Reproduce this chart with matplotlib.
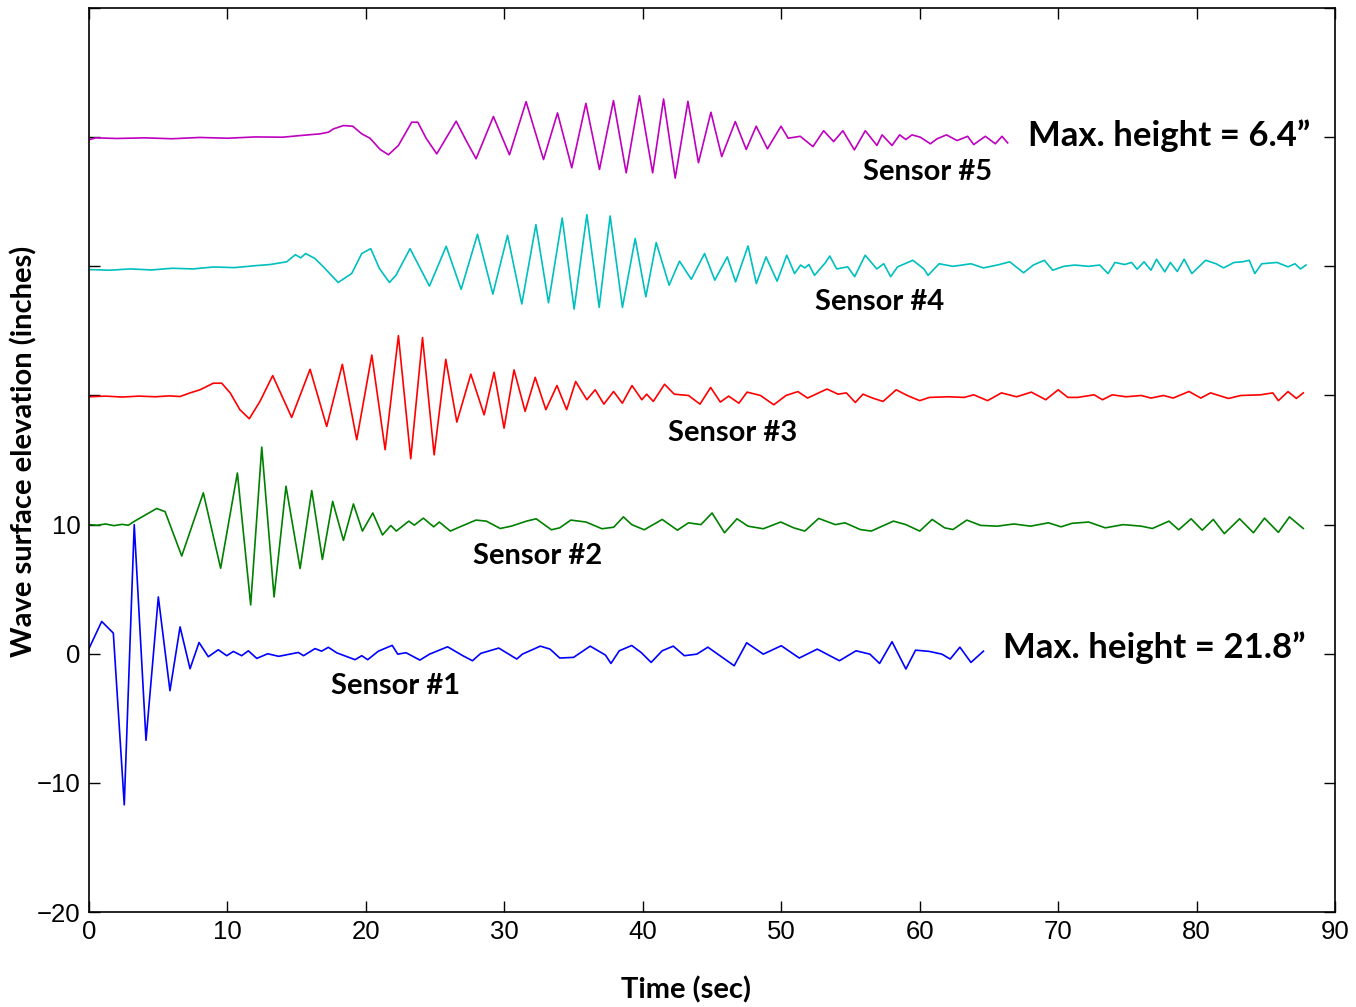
import matplotlib
matplotlib.use('Agg')
import matplotlib.pyplot as plt

# Sensor traces: (time, elevation) at turning points
s1_t = [0, 0.92, 1.76, 2.55, 3.27, 4.12, 5.01, 5.85, 6.58, 7.30, 7.95, 8.62, 9.34, 9.95,
        10.43, 11.03, 11.51, 12.12, 12.91, 13.7, 15.12, 15.5, 16.33, 16.8, 17.29, 17.9,
        19.22, 19.7, 20.13, 20.9, 21.9, 22.3, 22.9, 23.9, 24.6, 25.9, 27.0, 27.7, 28.3,
        29.6, 30.9, 31.3, 32.6, 33.3, 34.0, 35.0, 36.2, 37.3, 37.7, 38.3, 39.2, 39.9, 40.6,
        41.4, 42.2, 43.0, 43.9, 44.7, 45.2, 46.6, 47.5, 48.7, 50.0, 51.3, 52.6, 54.2, 55.4,
        56.4, 57.1, 58.0, 59.0, 59.7, 60.7, 61.6, 62.2, 62.9, 63.7, 64.6]
s1_y = [0.4, 2.5, 1.6, -11.7, 10.0, -6.7, 4.4, -2.86, 2.08, -1.16, 0.87, -0.23, 0.31, -0.15,
        0.18, -0.15, 0.23, -0.36, 0.0, -0.2, 0.1, -0.15, 0.4, 0.2, 0.5, 0.07,
        -0.46, -0.15, -0.46, 0.2, 0.65, -0.03, 0.08, -0.49, -0.03, 0.54, -0.15, -0.54, 0.03,
        0.44, -0.41, -0.03, 0.59, 0.36, -0.33, -0.28, 0.59, -0.1, -0.75, 0.23, 0.64, 0.08, -0.67,
        0.23, 0.59, -0.15, -0.03, 0.51, 0.13, -0.93, 0.85, -0.03, 0.62, -0.33, 0.36, -0.54, 0.23,
        -0.03, -0.75, 0.93, -1.18, 0.28, 0.18, -0.03, -0.41, 0.51, -0.67, 0.2]

s2_t = [0, 0.6, 1.2, 1.8, 2.4, 2.84, 3.3, 4.89, 5.5, 6.7, 8.26, 9.51, 10.72, 11.68, 12.48,
        13.37, 14.23, 15.25, 16.09, 16.86, 17.6, 18.38, 19.1, 19.75, 20.5, 21.2, 21.8, 22.2,
        23.1, 23.5, 24.15, 24.9, 25.3, 26.1, 26.8, 27.95, 28.7, 29.7, 30.5, 31.6, 32.3, 33.4,
        34.0, 34.8, 35.9, 37.05, 37.9, 38.6, 39.2, 40.1, 41.4, 42.5, 43.3, 44.2, 45.0, 45.9,
        46.8, 47.6, 48.7, 49.96, 50.9, 51.7, 52.7, 53.9, 54.6, 55.7, 56.5, 58.1, 59.0, 60.0,
        60.9, 61.8, 62.4, 63.4, 64.4, 65.6, 66.8, 68.0, 69.3, 70.2, 71.0, 72.2, 73.4, 74.7,
        76.0, 76.8, 78.0, 78.7, 79.6, 80.4, 81.2, 82.0, 83.1, 84.1, 84.9, 85.9, 86.7, 87.7]
s2_y = [10.0, 9.95, 10.05, 9.92, 10.02, 9.95, 10.27, 11.25, 11.0, 7.57, 12.46, 6.62, 14.0, 3.78, 16.0,
        4.4, 12.97, 6.6, 12.64, 7.3, 11.8, 8.78, 11.6, 9.5, 10.9, 9.2, 9.93, 9.5,
        10.27, 9.96, 10.5, 9.83, 10.2, 9.5, 9.83, 10.35, 10.27, 9.7, 9.88, 10.27, 10.45, 9.6,
        9.75, 10.35, 10.2, 9.68, 9.8, 10.6, 10.0, 9.6, 10.4, 9.57, 10.14, 10.0, 10.9, 9.37,
        10.45, 9.88, 9.68, 10.2, 9.75, 9.5, 10.48, 10.0, 10.14, 9.62, 9.5, 10.27, 10.0, 9.5,
        10.4, 9.75, 9.62, 10.35, 9.94, 9.88, 10.05, 9.88, 10.14, 9.83, 10.1, 10.2, 9.75, 10.0,
        9.88, 9.7, 10.27, 9.6, 10.45, 9.57, 10.4, 9.3, 10.45, 9.37, 10.5, 9.4, 10.6, 9.7]

s3_t = [0, 1.2, 2.4, 3.6, 4.8, 5.8, 6.58, 7.3, 8.02, 8.98, 9.59, 10.2, 10.9, 11.58, 12.35,
        13.27, 14.64, 15.97, 17.17, 18.3, 19.34, 20.43, 21.39, 22.35, 23.24, 24.09, 24.93,
        25.77, 26.57, 27.58, 28.54, 29.26, 29.98, 30.7, 31.5, 32.23, 33.0, 33.8, 34.5, 35.15,
        35.96, 36.56, 37.19, 37.89, 38.52, 39.22, 39.93, 40.28, 40.76, 41.57, 42.27, 43.3,
        44.13, 44.9, 45.6, 46.2, 46.94, 47.53, 48.5, 49.46, 50.34, 51.2, 51.9, 53.3, 54.1,
        54.7, 55.35, 55.9, 56.6, 57.35, 58.3, 59.1, 60.0, 60.7, 62.1, 63.2, 63.9, 64.9, 65.9,
        67.0, 68.06, 69.1, 70.0, 70.7, 71.4, 72.6, 73.2, 73.9, 74.9, 76.0, 76.7, 77.6, 78.3,
        79.45, 80.3, 81.0, 82.3, 83.2, 84.6, 85.5, 85.9, 86.6, 87.2, 87.7]
s3_y = [19.9, 19.95, 19.88, 19.95, 19.9, 19.97, 19.92, 20.2, 20.44, 20.95, 20.95, 20.2, 18.9, 18.2, 19.54,
        21.54, 18.3, 22.03, 17.6, 22.41, 16.57, 23.13, 15.8, 24.63, 15.1, 24.48, 15.4,
        22.8, 17.94, 21.65, 18.5, 21.8, 17.47, 21.98, 18.77, 21.4, 18.9, 20.77, 18.9, 21.08,
        19.67, 20.44, 19.33, 20.31, 19.4, 20.77, 19.67, 20.1, 19.54, 20.87, 20.1, 20.0,
        19.33, 20.62, 19.49, 19.95, 19.4, 20.26, 20.0, 19.28, 20.0, 20.3, 19.8, 20.5, 20.1,
        20.2, 19.46, 20.1, 19.8, 19.54, 20.44, 20.0, 19.6, 19.85, 19.9, 19.85, 20.05, 19.6, 20.2,
        19.9, 20.26, 19.67, 20.44, 19.85, 19.85, 20.05, 19.67, 20.05, 19.9, 20.0, 19.8, 20.0, 19.8,
        20.31, 19.8, 20.2, 19.77, 20.0, 20.05, 20.2, 19.6, 20.3, 19.77, 20.2]

s4_t = [0, 1.5, 3, 4.5, 6, 7.5, 9, 10.5, 12, 13.08, 14.28, 14.9, 15.3, 15.65, 16.33, 16.93,
        18.0, 18.98, 19.7, 20.35, 20.98, 21.7, 22.18, 23.19, 24.59, 25.8, 26.88, 28.06, 29.17,
        30.23, 31.26, 32.28, 33.19, 34.18, 35.04, 35.96, 36.85, 37.64, 38.53, 39.45, 40.22,
        40.97, 41.9, 42.65, 43.5, 44.46, 45.2, 46.1, 46.7, 47.6, 48.2, 48.9, 49.7, 50.4, 50.96,
        51.4, 51.7, 52.0, 52.4, 53.2, 53.5, 54.0, 54.8, 55.3, 56.06, 56.9, 57.4, 57.9, 58.4,
        59.5, 60.3, 60.6, 61.4, 62.4, 63.7, 64.6, 65.6, 66.5, 67.5, 68.2, 69.0, 69.6, 70.4,
        71.2, 72.2, 73.0, 73.6, 74.1, 74.8, 75.3, 75.7, 76.2, 76.7, 77.1, 77.7, 78.1, 78.6,
        79.1, 79.65, 80.65, 81.4, 81.95, 82.7, 83.3, 83.8, 84.2, 84.7, 85.8, 86.6, 87.1, 87.5, 87.9]
s4_y = [29.75, 29.7, 29.8, 29.72, 29.85, 29.8, 29.95, 29.9, 30.05, 30.14, 30.35, 30.9, 30.66, 30.99, 30.6, 29.96,
        28.75, 29.45, 30.99, 31.37, 29.83, 28.75, 29.32, 31.37, 28.47, 31.55, 28.22, 32.48, 27.85,
        32.4, 27.08, 33.23, 27.18, 33.74, 26.69, 34.0, 26.82, 33.9, 26.82, 32.15, 27.64,
        31.84, 28.54, 30.4, 29.0, 30.99, 28.93, 30.73, 28.8, 31.58, 28.67, 30.73, 28.85, 30.86, 29.44,
        30.1, 29.88, 30.14, 29.3, 30.3, 30.8, 29.8, 29.96, 29.2, 30.86, 29.8, 30.2, 29.2, 29.96,
        30.47, 29.8, 29.3, 30.2, 30.0, 30.2, 29.88, 30.1, 30.35, 29.5, 30.1, 30.47, 29.7, 30.0,
        30.1, 30.0, 30.1, 29.44, 30.3, 30.14, 30.3, 29.78, 30.35, 29.7, 30.55, 29.57, 30.3, 29.6,
        30.55, 29.44, 30.47, 30.2, 29.88, 30.3, 30.35, 30.47, 29.44, 30.2, 30.3, 29.96, 30.2, 29.8, 30.1]

s5_t = [0, 0.5, 2, 4, 6, 8, 10, 12, 14, 15.5, 16.69, 17.3, 17.65, 18.38, 19.05, 19.7, 20.3,
        21.03, 21.63, 22.35, 23.31, 23.75, 24.35, 25.12, 26.52, 27.24, 27.96, 29.21, 30.37,
        31.57, 32.83, 33.84, 34.87, 35.89, 36.87, 37.88, 38.8, 39.76, 40.71, 41.5, 42.34,
        43.26, 44.02, 44.92, 45.7, 46.68, 47.47, 48.19, 49.0, 49.98, 50.5, 51.37, 52.29, 53.06,
        53.78, 54.45, 55.28, 56.07, 56.91, 57.28, 58.0, 58.55, 59.0, 59.44, 60.04, 60.77,
        61.24, 61.93, 62.7, 63.46, 63.9, 64.74, 65.46, 65.94, 66.35]
s5_y = [39.8, 39.95, 39.9, 39.95, 39.88, 39.98, 39.92, 40.02, 40.0, 40.15, 40.26, 40.39, 40.64, 40.9, 40.85, 40.26, 39.92,
        39.05, 38.64, 39.36, 41.16, 41.16, 39.92, 38.71, 41.24, 39.74, 38.33, 41.6, 38.64,
        42.75, 38.27, 41.88, 37.63, 42.62, 37.5, 42.83, 37.24, 43.21, 37.24, 42.96, 36.83,
        42.78, 38.02, 41.93, 38.5, 41.21, 39.05, 40.85, 39.1, 40.85, 39.92, 40.07, 39.27, 40.5,
        39.66, 40.5, 39.02, 40.5, 39.36, 40.18, 39.36, 40.18, 39.82, 40.18, 40.0, 39.49,
        39.87, 40.18, 39.74, 40.07, 39.43, 40.07, 39.49, 40.07, 39.56]

sensor_names = ['Sensor #1', 'Sensor #2', 'Sensor #3', 'Sensor #4', 'Sensor #5']
x_ticks = [0, 10, 20, 30, 40, 50, 60, 70, 80, 90]
y_ticks = [-20, -10, 0, 10, 20, 30, 40, 50]
y_tick_labels = ['\u221220', '\u221210', '0', '10', '', '', '', '']

series = [(s1_t, s1_y, '#0000ff'), (s2_t, s2_y, '#008000'), (s3_t, s3_y, '#ff0000'),
          (s4_t, s4_y, '#00bfbf'), (s5_t, s5_y, '#bf00bf')]

label_font = ['Lato', 'DejaVu Sans']

fig = plt.figure(figsize=(13.56, 10.07), dpi=100)
ax = fig.add_axes([0.0656, 0.0943, 0.919, 0.8977])

for t, y, c in series:
    ax.plot(t, y, color=c, linewidth=1.2, solid_joinstyle='round')

ax.set_xlim(0, 90)
ax.set_ylim(-20, 50)
ax.set_xticks(x_ticks)
ax.set_yticks(y_ticks)
ax.set_yticklabels(y_tick_labels)
ax.tick_params(direction='in', length=8, width=1, top=True, right=True,
               labelsize=18.5, pad=6)
for lab in ax.get_xticklabels() + ax.get_yticklabels():
    lab.set_family('Liberation Sans')
for sp in ax.spines.values():
    sp.set_linewidth(1.2)

ax.set_xlabel('Time (sec)', fontsize=21, fontweight='bold', family=label_font)
ax.xaxis.set_label_coords(0.479, -0.071)
ax.set_ylabel('Wave surface elevation (inches)', fontsize=21, fontweight='bold',
              family=label_font)
ax.yaxis.set_label_coords(-0.041, 0.51)

# sensor labels
label_pos = [(17.5, -2.5), (27.75, 7.55), (41.8, 17.1), (52.45, 27.2), (55.9, 37.3)]
for name, (tx, ty) in zip(sensor_names, label_pos):
    ax.text(tx, ty, name, fontsize=21, fontweight='bold', family=label_font,
            ha='left', va='center')

ax.text(67.85, 40.15, 'Max. height = 6.4\u201d', fontsize=25, fontweight='bold',
        family=label_font, ha='left', va='center')
ax.text(66.0, 0.46, 'Max. height = 21.8\u201d', fontsize=25, fontweight='bold',
        family=label_font, ha='left', va='center')

fig.savefig('out.png', dpi=100)
